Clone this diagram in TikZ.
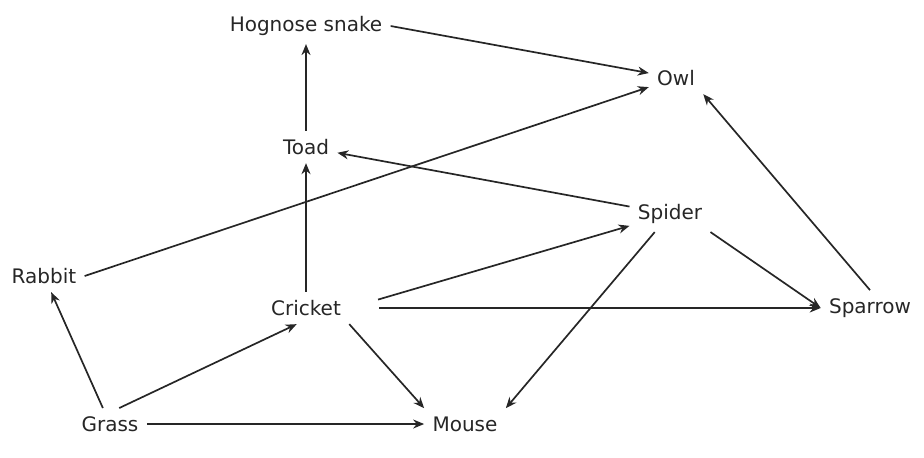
\documentclass[tikz,border=0pt]{standalone}
\usepackage{fontspec}
\setmainfont{DejaVu Sans}
\usepackage{tikz}
\usetikzlibrary{arrows.meta, positioning}

\begin{document}
\begin{tikzpicture}[x=0.5pt, y=-0.5pt, >={Stealth[length=5.5pt, width=4.5pt]},
			species/.style={inner sep=4pt, text=black!85, font=\fontsize{10}{12}\selectfont},
			eats/.style={->, line width=0.85pt, draw=black!85}]
			\useasboundingbox (0,0) rectangle (924,457);
			
			% Drawing the species
			\node[species] (snake) at (306,26) {Hognose snake};
			\node[species] (owl) at (676,78) {Owl};
			\node[species] (toad) at (306,147) {Toad};
			\node[species] (spider) at (670,214) {Spider};
			\node[species] (rabbit) at (44,276) {Rabbit};
			\node[species] (cricket) at (306,308) {Cricket};
			\node[species] (sparrow) at (870,308) {Sparrow};
			\node[species] (grass) at (110,424) {Grass};
			\node[species] (mouse) at (465,424) {Mouse};
			
			% Energy from grass
			\draw[eats] (grass) -- (rabbit);
			\draw[eats] (grass.60) -- (cricket.240);
			\draw[eats] (grass) -- (mouse);
			
			% Energy from cricket
			\draw[eats] (cricket) -- (toad);
			\draw[eats, shorten <=15pt] (cricket.east) -- (spider);
			\draw[eats, shorten <=15pt] (cricket.east) -- (sparrow.west);
			\draw[eats] (cricket.south east) -- (mouse.north west);
			
			% Energy from spider
			\draw[eats] (spider) -- (toad);
			\draw[eats] (spider.south east) -- (sparrow.west);
			\draw[eats] (spider) -- (mouse.north east);
			
			% Energy to the top
			\draw[eats] (toad) -- (snake);
			\draw[eats] (snake.east) -- (owl);
			\draw[eats] (rabbit.east) -- (owl);
			\draw[eats] (sparrow.north) -- (owl.south east);
		\end{tikzpicture}
\end{document}
